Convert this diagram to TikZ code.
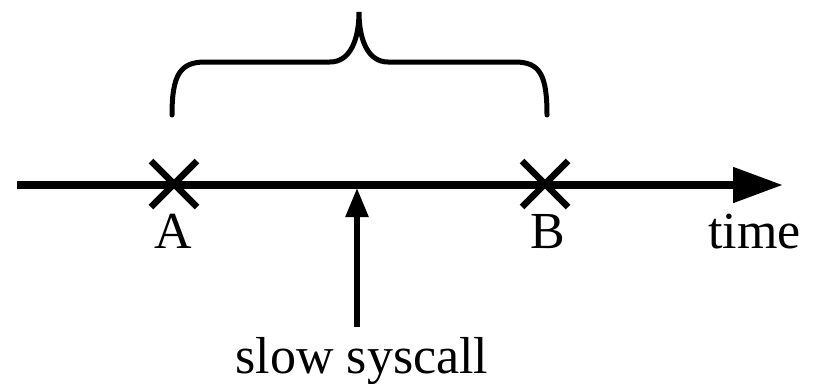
\documentclass[tikz,border=0pt]{standalone}
\usepackage{fontspec}
\setmainfont{Liberation Serif}
\usetikzlibrary{arrows.meta}
\begin{document}
\begin{tikzpicture}[x=1pt,y=-1pt,
  axisline/.style={line width=8pt,-{Triangle[length=50pt,width=34pt]}},
  crossmark/.style={line width=6.5pt},
  bracestyle/.style={line width=5pt,line cap=round},
  pointer/.style={line width=5.5pt,-{Triangle[length=29pt,width=22pt]}},
  lbl/.style={inner sep=0pt,font=\fontsize{52}{62}\selectfont}]
\useasboundingbox (0,0) rectangle (814,383);
\coordinate (start) at (17,185);
\coordinate (end) at (783,185);
\coordinate (a) at (174,184);
\coordinate (b) at (545,184);
\coordinate (hit) at (357,188);
\coordinate (tail) at (357,327);
\draw[axisline] (start) -- (end);
\draw[crossmark] ([shift={(-23,-23)}]a) -- ([shift={(23,23)}]a) ([shift={(-23,23)}]a) -- ([shift={(23,-23)}]a);
\draw[crossmark] ([shift={(-23,-23)}]b) -- ([shift={(23,23)}]b) ([shift={(-23,23)}]b) -- ([shift={(23,-23)}]b);
\draw[bracestyle] (172,115) .. controls (172,75) and (180,62) .. (205,62) -- (330,62)
  .. controls (350,62) and (359,40) .. (359,12)
  .. controls (359,40) and (368,62) .. (388,62) -- (515,62)
  .. controls (540,62) and (547,75) .. (547,115);
\draw[pointer] (tail) -- (hit);
\node[lbl,anchor=base] (la) at (173,248) {A};
\node[lbl,anchor=base] (lb) at (548,248) {B};
\node[lbl,anchor=base west] (lt) at (708,248) {time};
\node[lbl,anchor=base] (ls) at (362,373) {slow syscall};
\end{tikzpicture}
\end{document}
